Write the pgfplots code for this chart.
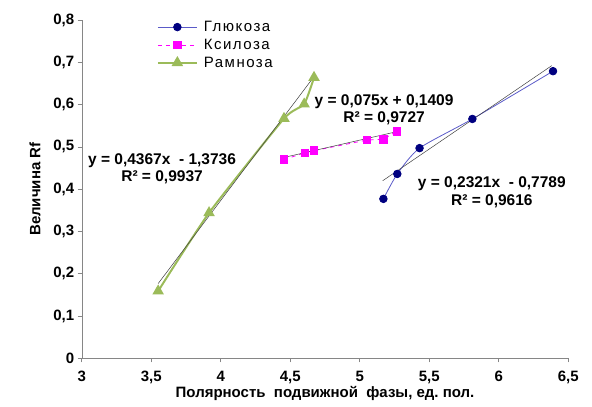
\documentclass[border=0pt]{standalone}
\usepackage{fontspec}
\setmainfont{Liberation Sans}
\usepackage{pgfplots}
\pgfplotsset{compat=1.18}
\definecolor{navyc}{RGB}{0,0,128}
\definecolor{glline}{RGB}{90,90,200}
\definecolor{magc}{RGB}{255,0,255}
\definecolor{grc}{RGB}{155,187,89}
\definecolor{axc}{RGB}{134,134,134}
\begin{document}
\begin{tikzpicture}
\begin{axis}[
  scale only axis,
  width=486.6pt, height=338.3pt,
  xmin=3, xmax=6.5, ymin=0, ymax=0.8,
  xtick={3,3.5,...,6.5}, ytick={0,0.1,...,0.8},
  axis x line*=bottom, axis y line*=left,
  axis line style={axc, -},
  tick style={axc, line width=0.6pt},
  tick align=outside, major tick length=4pt,
  /pgf/number format/assume math mode=true,
  xticklabel style={font=\fontsize{15}{17}\selectfont\bfseries, yshift=-5pt},
  yticklabel style={font=\fontsize{15}{17}\selectfont\bfseries},
  xticklabel={\pgfmathprintnumber[fixed,precision=1,use comma]{\tick}},
  yticklabel={\pgfmathprintnumber[fixed,precision=1,use comma]{\tick}},
  xlabel={Полярность\ \ подвижной\ \ фазы,\ ед.\ пол.},
  ylabel={Величина Rf},
  xlabel style={font=\fontsize{15}{17}\selectfont\bfseries, yshift=4pt},
  ylabel style={font=\fontsize{15}{17}\selectfont\bfseries, yshift=6pt},
  legend style={draw=none, fill=none, at={(0.152,1.006)}, anchor=north west,
    font=\fontsize{15}{17}\selectfont\addfontfeature{LetterSpace=10}, row sep=2pt, column sep=4pt, inner sep=1pt},
  legend image code/.code={\draw[mark repeat=2,mark phase=2] plot coordinates {(0pt,0pt) (19.5pt,0pt) (39pt,0pt)};},
  legend cell align=left,
  clip=false,
]
\addplot[glline, line width=0.8pt, smooth, tension=0.4, mark=*, mark size=3.8pt,
  mark options={navyc, fill=navyc, solid}]
  coordinates {(5.17,0.377) (5.27,0.436) (5.43,0.497) (5.81,0.566) (6.39,0.679)};
\addlegendentry{Глюкоза}
\addplot[magc, line width=0.8pt, dash pattern=on 4pt off 4pt, mark=square*, mark size=3.8pt,
  mark options={magc, fill=magc, solid}]
  coordinates {(4.455,0.470) (4.606,0.486) (4.671,0.491) (5.05,0.516) (5.17,0.518) (5.266,0.537)};
\addlegendentry{Ксилоза}
\addplot[grc, line width=2pt, smooth, tension=0.3, mark=triangle*, mark size=4.7pt,
  mark options={grc, fill=grc, solid}]
  coordinates {(3.55,0.159) (3.916,0.344) (4.455,0.567) (4.60,0.601) (4.671,0.664)};
\addlegendentry{Рамноза}
% trendlines (linear fits reported on the chart)
\addplot[black!75, line width=0.5pt, forget plot] coordinates {(5.165,0.4199) (6.381,0.6921)};
\addplot[black!75, line width=0.5pt, forget plot] coordinates {(4.455,0.4750) (5.266,0.5359)};
\addplot[black!75, line width=0.5pt, forget plot] coordinates {(3.55,0.1767) (4.671,0.6662)};
\node[font=\fontsize{15.5}{17.5}\selectfont\bfseries, align=center] at (axis cs:3.578,0.448)
  {y = 0,4367x\ \ - 1,3736\\R² = 0,9937};
\node[font=\fontsize{15.5}{17.5}\selectfont\bfseries, align=center] at (axis cs:5.175,0.588)
  {y = 0,075x + 0,1409\\R² = 0,9727};
\node[font=\fontsize{15.5}{17.5}\selectfont\bfseries, align=center] at (axis cs:5.95,0.392)
  {y = 0,2321x\ \ - 0,7789\\R² = 0,9616};
\end{axis}
\pgfresetboundingbox
\path ([shift={(-81.7pt,-48.7pt)}]current axis.south west) rectangle ([shift={(23.7pt,20pt)}]current axis.north east);
\end{tikzpicture}
\end{document}
